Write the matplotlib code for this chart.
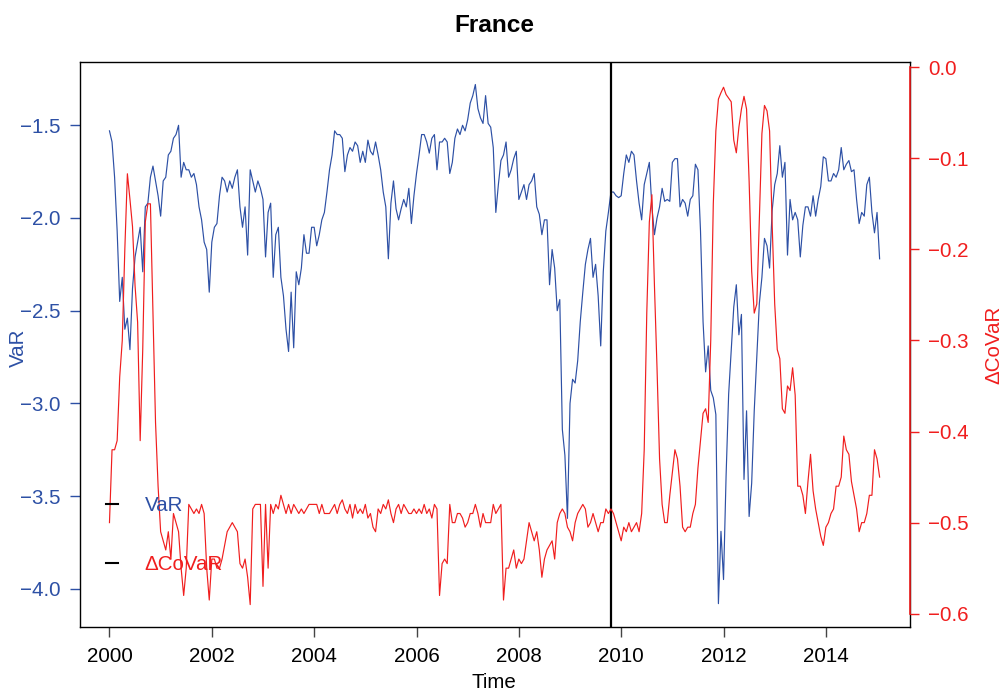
import matplotlib
matplotlib.use("Agg")
import matplotlib.pyplot as plt
import numpy as np

BLUE = "#2d50a5"
RED = "#f01e1e"
INK = "#000000"

plt.rcParams["font.family"] = ["Liberation Sans", "DejaVu Sans"]

# 20 observations per year, starting January 2000
OBS_PER_YEAR = 20
START_YEAR = 2000

var_series = [
    # 2000
    -1.53, -1.59, -1.78, -2.07, -2.45, -2.32, -2.60, -2.54, -2.71, -2.38,
    -2.21, -2.13, -2.05, -2.29, -1.94, -1.92, -1.78, -1.72, -1.80, -1.88,
    # 2001
    -1.99, -1.80, -1.78, -1.66, -1.64, -1.57, -1.55, -1.50, -1.78, -1.70,
    -1.74, -1.74, -1.78, -1.76, -1.82, -1.94, -2.01, -2.13, -2.17, -2.40,
    # 2002
    -2.13, -2.05, -2.03, -1.88, -1.78, -1.80, -1.86, -1.80, -1.84, -1.78,
    -1.74, -1.94, -2.05, -1.94, -2.20, -1.74, -1.80, -1.86, -1.80, -1.84,
    # 2003
    -1.90, -2.21, -1.97, -1.92, -2.32, -2.09, -2.05, -2.32, -2.42, -2.60,
    -2.72, -2.40, -2.70, -2.29, -2.36, -2.27, -2.09, -2.19, -2.19, -2.05,
    # 2004
    -2.05, -2.15, -2.09, -2.01, -1.97, -1.86, -1.74, -1.66, -1.53, -1.55,
    -1.55, -1.57, -1.75, -1.66, -1.62, -1.64, -1.59, -1.61, -1.70, -1.64,
    # 2005
    -1.70, -1.58, -1.64, -1.66, -1.59, -1.66, -1.74, -1.86, -1.94, -2.22,
    -1.92, -1.80, -1.95, -2.01, -1.95, -1.90, -1.94, -1.84, -2.03, -1.88,
    # 2006
    -1.76, -1.66, -1.55, -1.55, -1.59, -1.65, -1.57, -1.55, -1.74, -1.59,
    -1.59, -1.57, -1.59, -1.76, -1.70, -1.57, -1.52, -1.55, -1.50, -1.53,
    # 2007
    -1.47, -1.38, -1.34, -1.28, -1.41, -1.46, -1.49, -1.34, -1.49, -1.51,
    -1.62, -1.97, -1.82, -1.69, -1.66, -1.59, -1.78, -1.74, -1.68, -1.64,
    # 2008
    -1.90, -1.86, -1.82, -1.90, -1.82, -1.80, -1.76, -1.94, -1.98, -2.09,
    -2.01, -2.01, -2.36, -2.17, -2.27, -2.50, -2.44, -3.14, -3.28, -3.62,
    # 2009
    -3.00, -2.87, -2.89, -2.77, -2.56, -2.40, -2.25, -2.17, -2.11, -2.32,
    -2.25, -2.42, -2.69, -2.29, -2.07, -1.97, -1.86, -1.86, -1.88, -1.89,
    # 2010
    -1.88, -1.76, -1.66, -1.70, -1.64, -1.66, -1.80, -1.92, -2.01, -1.82,
    -1.76, -1.70, -1.94, -2.09, -2.00, -1.94, -1.84, -1.91, -1.90, -1.91,
    # 2011
    -1.70, -1.68, -1.68, -1.94, -1.90, -1.92, -1.99, -1.90, -1.88, -1.71,
    -1.74, -2.07, -2.56, -2.83, -2.69, -2.93, -2.97, -3.06, -4.08, -3.69,
    # 2012
    -3.95, -3.39, -2.95, -2.71, -2.48, -2.36, -2.63, -2.52, -3.41, -3.04,
    -3.61, -3.43, -3.04, -2.75, -2.46, -2.32, -2.11, -2.15, -2.27, -1.96,
    # 2013
    -1.82, -1.76, -1.61, -1.78, -1.70, -2.20, -1.90, -2.01, -1.97, -2.01,
    -2.21, -2.04, -1.94, -1.94, -1.99, -1.88, -1.99, -1.90, -1.83, -1.67,
    # 2014
    -1.68, -1.80, -1.80, -1.76, -1.78, -1.74, -1.62, -1.74, -1.71, -1.69,
    -1.75, -1.74, -1.90, -2.03, -1.97, -1.99, -1.82, -1.78, -1.97, -2.08,
    # 2015
    -1.97, -2.22,
]

dcovar_series = [
    # 2000
    -0.50, -0.42, -0.42, -0.41, -0.34, -0.30, -0.20, -0.117, -0.145, -0.175,
    -0.24, -0.28, -0.41, -0.31, -0.17, -0.15, -0.15, -0.27, -0.39, -0.46,
    # 2001
    -0.51, -0.52, -0.53, -0.51, -0.54, -0.49, -0.50, -0.51, -0.55, -0.58,
    -0.55, -0.48, -0.485, -0.49, -0.485, -0.49, -0.48, -0.49, -0.55, -0.585,
    # 2002
    -0.54, -0.54, -0.55, -0.55, -0.54, -0.525, -0.51, -0.505, -0.50, -0.505,
    -0.51, -0.545, -0.55, -0.54, -0.56, -0.59, -0.485, -0.48, -0.48, -0.48,
    # 2003
    -0.57, -0.48, -0.55, -0.48, -0.49, -0.48, -0.485, -0.47, -0.48, -0.49,
    -0.48, -0.49, -0.48, -0.485, -0.49, -0.485, -0.49, -0.485, -0.48, -0.48,
    # 2004
    -0.48, -0.48, -0.49, -0.48, -0.49, -0.49, -0.49, -0.485, -0.48, -0.49,
    -0.48, -0.475, -0.485, -0.49, -0.48, -0.495, -0.48, -0.49, -0.485, -0.49,
    # 2005
    -0.48, -0.495, -0.49, -0.505, -0.51, -0.485, -0.49, -0.48, -0.485, -0.475,
    -0.49, -0.50, -0.485, -0.48, -0.49, -0.48, -0.485, -0.49, -0.49, -0.485,
    # 2006
    -0.49, -0.485, -0.49, -0.48, -0.49, -0.485, -0.495, -0.48, -0.485, -0.58,
    -0.545, -0.54, -0.545, -0.48, -0.50, -0.50, -0.49, -0.49, -0.495, -0.505,
    # 2007
    -0.50, -0.49, -0.49, -0.48, -0.49, -0.505, -0.49, -0.50, -0.50, -0.50,
    -0.48, -0.49, -0.485, -0.48, -0.585, -0.55, -0.55, -0.54, -0.53, -0.55,
    # 2008
    -0.54, -0.545, -0.54, -0.52, -0.50, -0.51, -0.52, -0.51, -0.53, -0.56,
    -0.54, -0.53, -0.525, -0.52, -0.54, -0.50, -0.49, -0.485, -0.49, -0.505,
    # 2009
    -0.51, -0.52, -0.50, -0.49, -0.485, -0.48, -0.485, -0.505, -0.50, -0.49,
    -0.50, -0.51, -0.50, -0.50, -0.485, -0.49, -0.485, -0.49, -0.50, -0.51,
    # 2010
    -0.52, -0.505, -0.51, -0.50, -0.51, -0.505, -0.50, -0.51, -0.49, -0.42,
    -0.27, -0.17, -0.14, -0.24, -0.33, -0.43, -0.48, -0.50, -0.50, -0.47,
    # 2011
    -0.445, -0.42, -0.43, -0.46, -0.505, -0.51, -0.505, -0.505, -0.49, -0.48,
    -0.44, -0.41, -0.38, -0.375, -0.39, -0.30, -0.15, -0.07, -0.035, -0.028,
    # 2012
    -0.022, -0.03, -0.034, -0.038, -0.08, -0.094, -0.066, -0.046, -0.032, -0.046,
    -0.125, -0.224, -0.27, -0.26, -0.165, -0.073, -0.042, -0.048, -0.07, -0.172,
    # 2013
    -0.26, -0.31, -0.32, -0.375, -0.38, -0.35, -0.355, -0.33, -0.36, -0.46,
    -0.46, -0.47, -0.49, -0.455, -0.425, -0.465, -0.485, -0.50, -0.515, -0.525,
    # 2014
    -0.505, -0.50, -0.49, -0.485, -0.46, -0.46, -0.45, -0.405, -0.42, -0.425,
    -0.455, -0.47, -0.485, -0.51, -0.50, -0.50, -0.49, -0.47, -0.47, -0.42,
    # 2015
    -0.43, -0.45,
]

break_date = 2009.81
year_ticks = [2000, 2002, 2004, 2006, 2008, 2010, 2012, 2014]
var_ticks = [-1.5, -2.0, -2.5, -3.0, -3.5, -4.0]
dcovar_ticks = [0.0, -0.1, -0.2, -0.3, -0.4, -0.5, -0.6]

t = START_YEAR + np.arange(len(var_series)) / OBS_PER_YEAR

W, H = 1006, 693
fig = plt.figure(figsize=(W / 100, H / 100), dpi=100)
ax = fig.add_axes([80 / W, (H - 627) / H, 830 / W, 565 / H])

ax.plot(t, var_series, color=BLUE, lw=0.85)
ax.axvline(break_date, color=INK, lw=1.6, zorder=5)

ax.set_xlim(1999.424, 2015.644)
ax.set_ylim(-4.206, -1.1586)
ax.set_xticks(year_ticks)
ax.set_xticklabels([str(y) for y in year_ticks])
ax.set_yticks(var_ticks)
ax.set_yticklabels([f"{v:.1f}".replace("-", "\u2212") for v in var_ticks])
ax.tick_params(axis="x", direction="out", length=7.2, width=1.0, pad=7,
               color="#444444", labelcolor=INK, labelsize=14.8)
ax.tick_params(axis="y", direction="out", length=7.5, width=1.0, pad=6.5,
               color=BLUE, labelcolor=BLUE, labelsize=14.8)
for side in ax.spines.values():
    side.set_color(INK)
    side.set_linewidth(1.0)

ax2 = ax.twinx()
ax2.plot(t, dcovar_series, color=RED, lw=0.85)
ax2.set_ylim(-0.6146, 0.0057)
ax2.set_yticks(dcovar_ticks)
ax2.set_yticklabels([f"{v:.1f}".replace("-", "\u2212") for v in dcovar_ticks])
ax2.tick_params(axis="y", direction="out", length=6.8, width=1.0, pad=6.5,
                color=RED, labelcolor=RED, labelsize=14.8)
for name in ("top", "bottom", "left"):
    ax2.spines[name].set_visible(False)
ax2.spines["right"].set_color(RED)
ax2.spines["right"].set_linewidth(1.2)
ax2.spines["right"].set_bounds(-0.6, 0.0)

# legend: short black dashes with coloured labels
handles = [plt.Line2D([], [], color=INK, lw=1.5),
           plt.Line2D([], [], color=INK, lw=1.5)]
leg = ax2.legend(handles, ["VaR", "\u0394CoVaR"], loc="center left",
                 bbox_to_anchor=(0.031, 0.163), frameon=False, fontsize=14.8,
                 handlelength=0.6, handletextpad=1.3, labelspacing=1.95,
                 borderpad=0, borderaxespad=0, labelcolor=[BLUE, RED])

fig.text(494 / W, 1 - 25 / H, "France", ha="center", va="center",
         fontsize=17.6, fontweight="bold", color=INK)
fig.text(494 / W, 1 - 682 / H, "Time", ha="center", va="center",
         fontsize=14.8, color=INK)
fig.text(18 / W, 1 - 348 / H, "VaR", ha="center", va="center",
         rotation=90, fontsize=14.8, color=BLUE)
fig.text(994 / W, 1 - 345 / H, "\u0394CoVaR", ha="center", va="center",
         rotation=90, fontsize=14.8, color=RED)

fig.savefig("out.png", dpi=100)
